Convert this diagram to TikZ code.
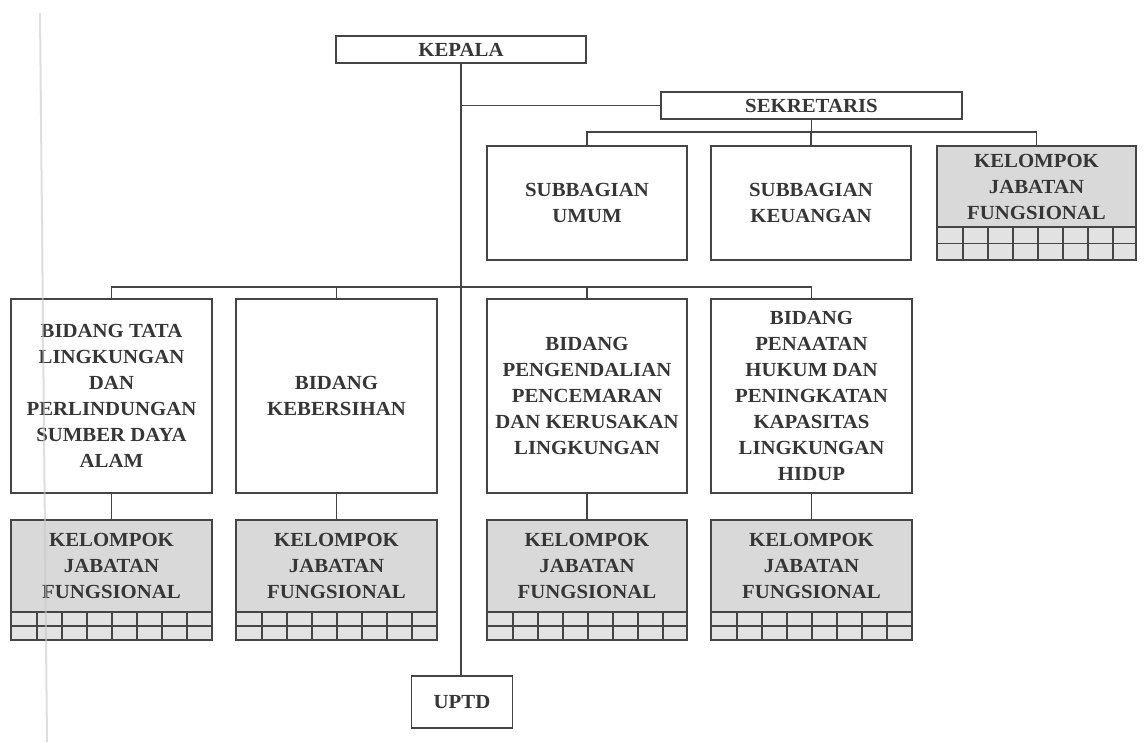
\documentclass[tikz,border=0pt]{standalone}
\usepackage{fontspec}
\setmainfont{Liberation Serif}[FakeStretch=1.04]
\definecolor{linec}{HTML}{454545}
\definecolor{textc}{HTML}{363636}
\definecolor{fillc}{HTML}{D9D9D9}
\definecolor{cellc}{HTML}{E2E2E2}
\definecolor{scanc}{HTML}{C8C8C8}
\tikzset{
  box/.style={draw=linec, line width=1.3pt, fill=white, text=textc, align=center, inner sep=0pt,
    font=\fontsize{20}{26}\selectfont\bfseries},
  kjf/.style={box, fill=fillc},
  conn/.style={draw=linec, line width=1.3pt},
  gridl/.style={draw=linec, line width=1.1pt},
}
\begin{document}
\begin{tikzpicture}[x=1pt,y=-1pt]
\useasboundingbox (0,0) rectangle (1146,742);
% top
\node[box, minimum width=250, minimum height=27] (kepala) at (461,49.5) {KEPALA};
\node[box, minimum width=301, minimum height=27] (sek) at (811.5,105.5) {SEKRETARIS};
\node[box, minimum width=200, minimum height=114] (su) at (587,203) {SUBBAGIAN\\UMUM};
\node[box, minimum width=200, minimum height=114] (sk) at (811,203) {SUBBAGIAN\\KEUANGAN};
\node[kjf, minimum width=199, minimum height=81] (k0) at (1036.5,186.5) {KELOMPOK\\JABATAN\\FUNGSIONAL};
% bidang
\node[box, minimum width=201, minimum height=194] (b1) at (111.5,396) {BIDANG TATA\\LINGKUNGAN\\DAN\\PERLINDUNGAN\\SUMBER DAYA\\ALAM};
\node[box, minimum width=201, minimum height=194] (b2) at (336.5,396) {BIDANG\\KEBERSIHAN};
\node[box, minimum width=200, minimum height=194] (b3) at (587,396) {BIDANG\\PENGENDALIAN\\PENCEMARAN\\DAN KERUSAKAN\\LINGKUNGAN};
\node[box, minimum width=201, minimum height=194] (b4) at (811.5,396) {BIDANG\\PENAATAN\\HUKUM DAN\\PENINGKATAN\\KAPASITAS\\LINGKUNGAN\\HIDUP};
% kjf
\node[kjf, minimum width=201, minimum height=92] (k1) at (111.5,566) {KELOMPOK\\JABATAN\\FUNGSIONAL};
\node[kjf, minimum width=201, minimum height=92] (k2) at (336.5,566) {KELOMPOK\\JABATAN\\FUNGSIONAL};
\node[kjf, minimum width=200, minimum height=92] (k3) at (587,566) {KELOMPOK\\JABATAN\\FUNGSIONAL};
\node[kjf, minimum width=201, minimum height=92] (k4) at (811.5,566) {KELOMPOK\\JABATAN\\FUNGSIONAL};
\node[box, minimum width=101, minimum height=52] (uptd) at (462,702) {UPTD};
% grids under KJF boxes
\foreach \L/\W/\T/\h in {937/199/227/16.5, 11/201/612/14, 236/201/612/14, 487/200/612/14, 711/201/612/14}{
  \filldraw[gridl, fill=cellc] (\L,\T) rectangle ++(\W,2*\h);
  \draw[gridl] (\L,\T+\h) -- ++(\W,0);
  \foreach \i in {0,...,6} \draw[gridl] (\L+26+25*\i,\T) -- ++(0,2*\h);
}
% connectors
\coordinate (sbus) at (0,132);
\coordinate (bbus) at (0,287);
\draw[conn] (kepala.south) -- (kepala.south |- uptd.north);
\draw[conn] (kepala.south |- sek.west) -- (sek.west);
\draw[conn] (sek.south) -- (sek.south |- sbus);
\draw[conn] (su.north) -- (su.north |- sbus) -- (k0.north |- sbus) -- (k0.north);
\draw[conn] (sk.north) -- (sk.north |- sbus);
\draw[conn] (b1.north) -- (b1.north |- bbus) -- (b4.north |- bbus) -- (b4.north);
\draw[conn] (b2.north) -- (b2.north |- bbus);
\draw[conn] (b3.north) -- (b3.north |- bbus);
\draw[conn] (b1.south) -- (k1.north);
\draw[conn] (b2.south) -- (k2.north);
\draw[conn] (b3.south) -- (k3.north);
\draw[conn] (b4.south) -- (k4.north);
% faint scan edge, visible through the boxes
\draw[scanc, line width=2pt, opacity=0.6] (40,13) -- (47,742);
\end{tikzpicture}
\end{document}
